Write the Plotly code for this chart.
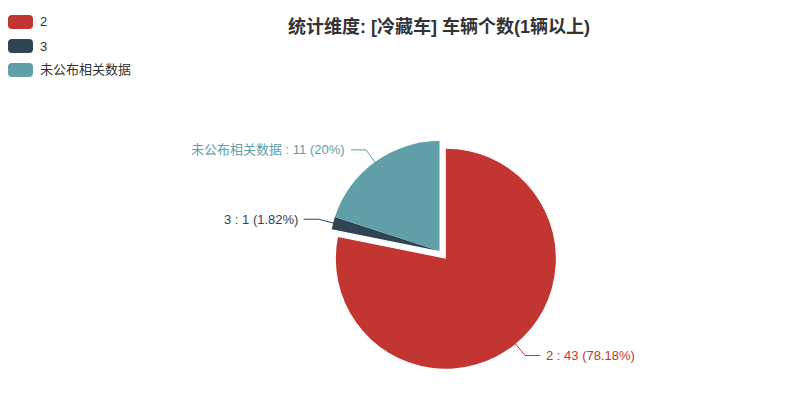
import math
import plotly.graph_objects as go

# 数据
labels = ['2', '3', '未公布相关数据']
values = [43, 1, 11]
colors = ['#c23531', '#2f4554', '#61a0a8']
selected = [True, False, False]
title_text = '统计维度: [冷藏车] 车辆个数(1辆以上)'

# 页面 body 默认有 8px 外边距，所以图宽高各减 8，坐标也整体左移上移 8
PAD = 8
W, H = 800 - PAD, 410 - PAD
FONT = 'Liberation Sans, Noto Sans CJK SC, sans-serif'

# 饼图位置（页面像素）
cx, cy, r = 439.5, 251, 110
offset = 10
pull_frac = offset / r
half = r * (1 + pull_frac)


def px(x):
    return (x - PAD) / W


def py(y):
    return 1 - (y - PAD) / H


fig = go.Figure(go.Pie(
    labels=labels,
    values=values,
    marker=dict(colors=colors, line=dict(width=0)),
    pull=[pull_frac if s else 0 for s in selected],
    sort=False,
    direction='clockwise',
    rotation=0,
    textinfo='none',
    hoverinfo='label+value+percent',
    showlegend=False,
    domain=dict(x=[px(cx - half), px(cx + half)],
                y=[py(cy + half), py(cy - half)]),
))

shapes = []
annotations = []

# 标签和引导线
total = sum(values)
start = 0.0
for lab, val, col, sel in zip(labels, values, colors, selected):
    ang = 360.0 * val / total
    mid = math.radians(start + ang / 2)
    start += ang
    ux, uy = math.sin(mid), -math.cos(mid)
    ccx, ccy = cx, cy
    if sel:
        ccx, ccy = cx + offset * ux, cy + offset * uy
    x0, y0 = ccx + r * ux, ccy + r * uy
    x1, y1 = ccx + (r + 15) * ux, ccy + (r + 15) * uy
    side = 1 if ux >= 0 else -1
    x2 = x1 + 15 * side
    shapes.append(dict(
        type='path', xref='paper', yref='paper',
        path=f'M {px(x0)},{py(y0)} L {px(x1)},{py(y1)} L {px(x2)},{py(y1)}',
        line=dict(color=col, width=1),
    ))
    pct = round(100.0 * val / total, 2)
    annotations.append(dict(
        x=px(x2 + 4 * side), y=py(y1), xref='paper', yref='paper',
        text=f'{lab} : {val} ({pct:g}%)', showarrow=False,
        xanchor='left' if side > 0 else 'right', yanchor='middle',
        font=dict(size=13, color=col, family=FONT),
    ))

# 图例（左上角）
for i, (lab, col) in enumerate(zip(labels, colors)):
    yc = 22 + 24 * i
    x0, x1, y0, y1, k = 8, 33, yc - 7, yc + 7, 4
    path = (f'M {px(x0 + k)},{py(y0)} L {px(x1 - k)},{py(y0)} '
            f'Q {px(x1)},{py(y0)} {px(x1)},{py(y0 + k)} L {px(x1)},{py(y1 - k)} '
            f'Q {px(x1)},{py(y1)} {px(x1 - k)},{py(y1)} L {px(x0 + k)},{py(y1)} '
            f'Q {px(x0)},{py(y1)} {px(x0)},{py(y1 - k)} L {px(x0)},{py(y0 + k)} '
            f'Q {px(x0)},{py(y0)} {px(x0 + k)},{py(y0)} Z')
    shapes.append(dict(type='path', xref='paper', yref='paper', path=path,
                       fillcolor=col, line=dict(width=0)))
    annotations.append(dict(
        x=px(38), y=py(yc), xref='paper', yref='paper', text=lab,
        showarrow=False, xanchor='left', yanchor='middle',
        font=dict(size=13, color='#333', family=FONT),
    ))

# 标题
annotations.append(dict(
    x=px(439), y=py(26), xref='paper', yref='paper',
    text=f'<b>{title_text}</b>', showarrow=False,
    xanchor='center', yanchor='middle',
    font=dict(size=18, color='#333', family=FONT),
))

fig.update_layout(
    width=W, height=H,
    margin=dict(l=0, r=0, t=0, b=0),
    paper_bgcolor='white',
    plot_bgcolor='white',
    shapes=shapes,
    annotations=annotations,
    font=dict(family=FONT),
)

fig.write_html('out.html')
